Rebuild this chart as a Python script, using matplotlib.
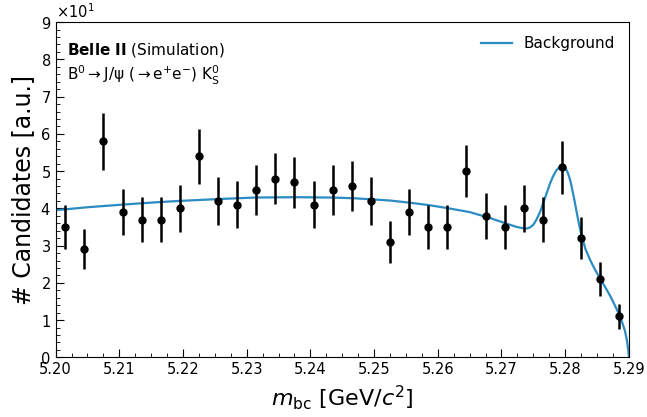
import matplotlib.pyplot as plt
import numpy as np
from matplotlib.ticker import MultipleLocator

# binned candidates (30 bins between 5.20 and 5.29)
bin_edges = np.linspace(5.20, 5.29, 31)
counts = [35, 29, 58, 39, 37, 37, 40, 54, 42, 41,
          45, 48, 47, 41, 45, 46, 42, 31, 39, 35,
          35, 50, 38, 35, 40, 37, 51, 32, 21, 11]
errors = [5.92, 5.39, 7.62, 6.24, 6.08, 6.08, 6.32, 7.35, 6.48, 6.40,
          6.71, 6.93, 6.86, 6.40, 6.71, 6.78, 6.48, 5.57, 6.24, 5.92,
          5.92, 7.07, 6.16, 5.92, 6.32, 6.08, 7.14, 5.66, 4.58, 3.32]

# background fit curve
curve_x = [5.2000, 5.2050, 5.2104, 5.2164, 5.2195, 5.2256, 5.2313, 5.2376,
           5.2434, 5.2470, 5.2525, 5.2557, 5.2585, 5.2614, 5.2650, 5.2682,
           5.2706, 5.2724, 5.2733, 5.2740, 5.2745, 5.2750, 5.2755, 5.2761,
           5.2766, 5.2771, 5.2776, 5.2781, 5.2786, 5.2792, 5.2796, 5.2800,
           5.2804, 5.2808, 5.2813, 5.2818, 5.2822, 5.2826, 5.2832, 5.2839,
           5.2847, 5.2855, 5.2863, 5.2871, 5.2879, 5.2886, 5.2891, 5.2894,
           5.2897, 5.2899, 5.2900]
curve_y = [39.5, 40.3, 41.0, 41.7, 42.0, 42.5, 42.9, 43.0,
           42.9, 42.7, 42.1, 41.5, 40.9, 40.1, 39.0, 37.4,
           36.0, 35.0, 34.7, 34.6, 34.9, 35.6, 37.0, 39.2,
           41.7, 44.1, 46.6, 48.6, 50.2, 51.2, 51.5, 51.0,
           49.6, 47.5, 43.5, 39.0, 35.5, 32.5, 29.0, 26.2,
           23.5, 21.1, 18.8, 16.4, 13.6, 11.1, 8.6, 7.0,
           4.5, 2.0, 0.0]

centers = 0.5 * (bin_edges[:-1] + bin_edges[1:])

fig = plt.figure(figsize=(6.47, 4.17), dpi=100)
ax = fig.add_axes([0.086, 0.143, 0.886, 0.804])

ax.plot(curve_x, curve_y, color='#2b8cc4', lw=1.6, label='Background', zorder=2)
ax.errorbar(centers, counts, yerr=errors, fmt='o', color='black', ms=5,
            elinewidth=1.8, capsize=0, zorder=3)

ax.set_xlim(5.20, 5.29)
ax.set_ylim(0, 90)
ax.xaxis.set_major_locator(MultipleLocator(0.01))
ax.xaxis.set_minor_locator(MultipleLocator(0.0025))
ax.yaxis.set_major_locator(MultipleLocator(10))
ax.yaxis.set_minor_locator(MultipleLocator(2))
ax.ticklabel_format(axis='y', style='sci', scilimits=(0, 0), useMathText=True)
ax.tick_params(which='both', direction='in', top=False, right=False, labelsize=10.5)
ax.tick_params(which='major', length=6)
ax.tick_params(which='minor', length=3)
ax.yaxis.get_offset_text().set_fontsize(10.5)
ax.xaxis.set_major_formatter(plt.FormatStrFormatter('%.2f'))

ax.set_xlabel(r'$m_{\rm bc}$ [GeV/$c^2$]', fontsize=16)
ax.set_ylabel('# Candidates [a.u.]', fontsize=17)

ax.text(0.02, 0.945, r'$\bf{Belle\ II}$ (Simulation)', transform=ax.transAxes,
        fontsize=11, va='top')
ax.text(0.02, 0.875, r'$\mathrm{B^0 \to J/\psi\ (\to e^{+}e^{-})\ K_S^0}$',
        transform=ax.transAxes, fontsize=11, va='top')

ax.legend(loc='upper right', frameon=False, fontsize=11)

fig.savefig('out.png', dpi=100)
